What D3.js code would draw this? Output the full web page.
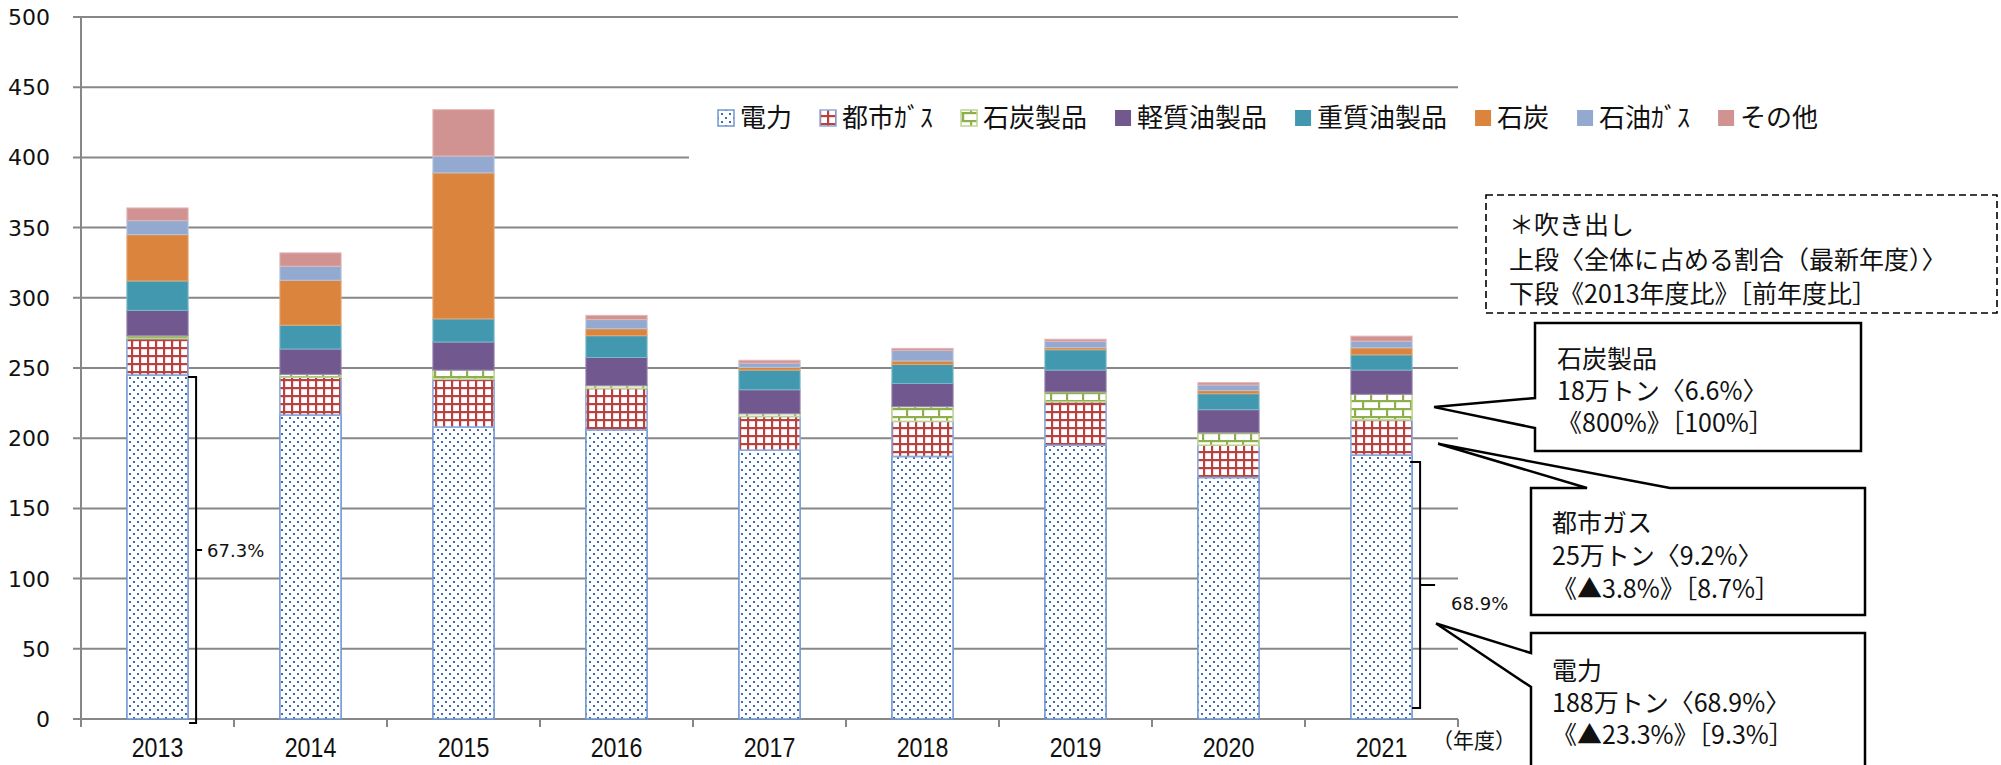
<!DOCTYPE html>
<html>
<head>
<meta charset="utf-8">
<script src="https://cdn.jsdelivr.net/npm/d3@7"></script>
<style>
body { margin: 0; background: #fff; }
svg { display: block; }
</style>
</head>
<body>
<script>
// data (万トン)
var years = ["2013", "2014", "2015", "2016", "2017", "2018", "2019", "2020", "2021"];
var seriesNames = ["電力", "都市ｶﾞｽ", "石炭製品", "軽質油製品", "重質油製品", "石炭", "石油ｶﾞｽ", "その他"];
var denryoku   = [245, 216.5, 208, 206, 191.5, 187, 195, 172, 188];
var toshiGas   = [26, 27, 34, 29.5, 24, 25, 31, 23, 25];
var sekitanSei = [2, 2, 6.5, 2, 2, 10.5, 7, 9, 18.3];
var keishitsu  = [18, 18, 20, 20, 17, 16.5, 15.5, 16.3, 17.2];
var jushitsu   = [21, 17, 16.5, 15.5, 14, 13.5, 14.5, 11.4, 10.9];
var sekitan    = [33, 32, 104, 5, 2, 2.5, 1.5, 2.2, 5];
var sekiyuGas  = [10, 10, 12, 6.5, 3, 7.5, 4.5, 4, 4.7];
var sonota     = [9, 9.5, 33, 3, 2, 1.5, 1.5, 1.7, 3.6];
var yTicks = [0, 50, 100, 150, 200, 250, 300, 350, 400, 450, 500];

var noteLines = ["＊吹き出し", "上段〈全体に占める割合（最新年度）〉", "下段《2013年度比》［前年度比］"];
var calloutSekitan = ["石炭製品", "18万トン〈6.6%〉", "《800%》［100%］"];
var calloutGas = ["都市ガス", "25万トン〈9.2%〉", "《▲3.8%》［8.7%］"];
var calloutDenryoku = ["電力", "188万トン〈68.9%〉", "《▲23.3%》［9.3%］"];

var seriesValues = [denryoku, toshiGas, sekitanSei, keishitsu, jushitsu, sekitan, sekiyuGas, sonota];
var rows = years.map(function(y, i) {
  var r = { year: y };
  seriesNames.forEach(function(s, k) { r[s] = seriesValues[k][i]; });
  return r;
});

var width = 2001, height = 765;
var svg = d3.select("body").append("svg").attr("width", width).attr("height", height);
var jp = "'Noto Sans CJK JP', sans-serif";

var x = d3.scaleBand().domain(years).range([81, 1458]).paddingInner(0.6).paddingOuter(0.3);
var y = d3.scaleLinear().domain([0, 500]).range([719, 17]);

// patterns
var defs = svg.append("defs");
var pDot = defs.append("pattern").attr("id", "pDot").attr("patternUnits", "userSpaceOnUse").attr("width", 8).attr("height", 8);
pDot.append("rect").attr("width", 8).attr("height", 8).attr("fill", "#fff");
pDot.append("rect").attr("x", 1).attr("y", 1).attr("width", 2).attr("height", 2).attr("fill", "#3E6DB8");
pDot.append("rect").attr("x", 5).attr("y", 5).attr("width", 2).attr("height", 2).attr("fill", "#3E6DB8");

var pGrid = defs.append("pattern").attr("id", "pGrid").attr("patternUnits", "userSpaceOnUse").attr("width", 8).attr("height", 8);
pGrid.append("rect").attr("width", 8).attr("height", 8).attr("fill", "#fff");
pGrid.append("rect").attr("x", 3).attr("width", 2.2).attr("height", 8).attr("fill", "#B8423F");
pGrid.append("rect").attr("y", 3).attr("width", 8).attr("height", 2.2).attr("fill", "#B8423F");

var pBrick = defs.append("pattern").attr("id", "pBrick").attr("patternUnits", "userSpaceOnUse").attr("width", 16).attr("height", 16);
pBrick.append("rect").attr("width", 16).attr("height", 16).attr("fill", "#fff");
pBrick.append("rect").attr("y", 0).attr("width", 16).attr("height", 2.2).attr("fill", "#8DB04D");
pBrick.append("rect").attr("y", 8).attr("width", 16).attr("height", 2.2).attr("fill", "#8DB04D");
pBrick.append("rect").attr("x", 2).attr("y", 0).attr("width", 2.2).attr("height", 8).attr("fill", "#8DB04D");
pBrick.append("rect").attr("x", 10).attr("y", 8).attr("width", 2.2).attr("height", 8).attr("fill", "#8DB04D");

var fills = ["url(#pDot)", "url(#pGrid)", "url(#pBrick)", "#71588F", "#4198AF", "#DB843D", "#93A9CF", "#D19392"];
var strokes = ["#7196D0", "#8EAADB", "#BFD395", "#9A86B0", "#7DBACB", "#E8A874", "#B6C6E1", "#E2B7B6"];

// gridlines
svg.append("g").selectAll("line").data(yTicks).enter().append("line")
  .attr("x1", 73).attr("x2", 1458)
  .attr("y1", function(d) { return y(d); }).attr("y2", function(d) { return y(d); })
  .attr("stroke", "#878787").attr("stroke-width", 2);

svg.append("g").selectAll("text").data(yTicks).enter().append("text")
  .attr("x", 50).attr("y", function(d) { return y(d); })
  .attr("dy", "0.36em").attr("text-anchor", "end")
  .style("font-family", "'DejaVu Sans', sans-serif").style("font-size", "22px").style("fill", "#111")
  .text(function(d) { return d; });

// legend background hides part of the grid, as in the original
svg.append("rect").attr("x", 689).attr("y", 95).attr("width", 1160).attr("height", 70).attr("fill", "#fff");

// stacked bars
var stack = d3.stack().keys(seriesNames)(rows);
var layers = svg.append("g").selectAll("g").data(stack).enter().append("g")
  .attr("fill", function(d, i) { return fills[i]; })
  .attr("stroke", function(d, i) { return strokes[i]; })
  .attr("stroke-width", function(d, i) { return i < 3 ? 1.6 : 1; });
layers.selectAll("rect").data(function(d) { return d; }).enter().append("rect")
  .attr("x", function(d) { return x(d.data.year); })
  .attr("width", x.bandwidth())
  .attr("y", function(d) { return y(d[1]); })
  .attr("height", function(d) { return y(d[0]) - y(d[1]); });

// axes lines and ticks
svg.append("line").attr("x1", 81).attr("x2", 81).attr("y1", 17).attr("y2", 727).attr("stroke", "#878787").attr("stroke-width", 2);
var edges = years.map(function(d) { return x(d) - x.step() * x.paddingInner() / 2; }).concat([1458]);
svg.append("g").selectAll("line").data(edges).enter().append("line")
  .attr("x1", function(d) { return d; }).attr("x2", function(d) { return d; })
  .attr("y1", 719).attr("y2", 727).attr("stroke", "#878787").attr("stroke-width", 2);

svg.append("g").selectAll("text").data(years).enter().append("text")
  .attr("transform", function(d) { return "translate(" + (x(d) + x.bandwidth() / 2) + ",757) scale(0.86,1)"; })
  .attr("text-anchor", "middle")
  .style("font-family", "'Liberation Sans', sans-serif").style("font-size", "27px").style("fill", "#111")
  .text(function(d) { return d; });

svg.append("text").attr("x", 1432).attr("y", 748)
  .style("font-family", jp).style("font-size", "21px").style("fill", "#111").text("（年度）");

// legend
var lg = svg.append("g");
var lx = 718;
seriesNames.forEach(function(s, i) {
  lg.append("rect").attr("x", lx).attr("y", 110).attr("width", 16).attr("height", 16)
    .attr("fill", fills[i]).attr("stroke", i < 3 ? strokes[i] : "none").attr("stroke-width", 1.5);
  var t = lg.append("text").attr("x", lx + 22).attr("y", 127)
    .style("font-family", jp).style("font-size", "26px").style("fill", "#111").text(s);
  lx += 22 + t.node().getComputedTextLength() + 28;
});

// share brackets for 電力
function share(i) {
  var total = d3.sum(seriesValues, function(v) { return v[i]; });
  return (denryoku[i] / total * 100).toFixed(1) + "%";
}
var br = svg.append("g").attr("fill", "none").attr("stroke", "#000").attr("stroke-width", 2);
var r0 = x(years[0]) + x.bandwidth();
var t0 = y(denryoku[0]) + 2, b0 = y(0) + 4, m0 = (t0 + b0) / 2;
br.append("path").attr("d", "M" + r0 + "," + t0 + "H" + (r0 + 8) + "V" + b0 + "H" + (r0 + 1));
br.append("path").attr("d", "M" + (r0 + 8) + "," + m0 + "H" + (r0 + 14));
svg.append("text").attr("x", r0 + 19).attr("y", m0 + 7)
  .style("font-family", "'DejaVu Sans', sans-serif").style("font-size", "18px").style("fill", "#111").text(share(0));

var r8 = x(years[8]) + x.bandwidth();
var t8 = y(denryoku[8]) + 7, b8 = y(0) - 11, m8 = (t8 + b8) / 2;
br.append("path").attr("d", "M" + (r8 - 2) + "," + t8 + "H" + (r8 + 8) + "V" + b8 + "H" + (r8 - 0));
br.append("path").attr("d", "M" + (r8 + 8) + "," + m8 + "H" + (r8 + 23));
svg.append("text").attr("x", r8 + 39).attr("y", m8 + 25)
  .style("font-family", "'DejaVu Sans', sans-serif").style("font-size", "18px").style("fill", "#111").text(share(8));

// callouts
var co = svg.append("g").attr("fill", "#fff").attr("stroke", "#000").attr("stroke-width", 2.5).attr("stroke-linejoin", "miter");
var tipX = r8 + 22;
var tipSekitan = y(denryoku[8] + toshiGas[8] + sekitanSei[8] / 2);
var tipGas = y(196);
var tipDen = y(68);
co.append("path").attr("d", "M1535,323H1861V451H1535V428L" + tipX + "," + tipSekitan + "L1535,398Z");
co.append("path").attr("d", "M1531,488H1587L" + (tipX + 4) + "," + tipGas + "L1670,488H1865V615H1531Z");
co.append("path").attr("d", "M1531,633H1865V790H1531V687L" + (tipX + 2) + "," + tipDen + "L1531,653Z");

function lines(arr, x0, y0, step) {
  var t = svg.append("text").attr("x", x0).attr("y", y0)
    .style("font-family", jp).style("font-size", "25px").style("fill", "#111");
  arr.forEach(function(s, i) {
    t.append("tspan").attr("x", x0).attr("y", y0 + i * step).text(s);
  });
}
lines(calloutSekitan, 1557, 368, 32);
lines(calloutGas, 1552, 532, 33);
lines(calloutDenryoku, 1552, 680, 32);

// dashed note box
svg.append("rect").attr("x", 1486).attr("y", 195).attr("width", 511).attr("height", 118)
  .attr("fill", "#fff").attr("stroke", "#000").attr("stroke-width", 1.6).attr("stroke-dasharray", "7,4");
lines(noteLines, 1509, 234, 34.5);
</script>
</body>
</html>
